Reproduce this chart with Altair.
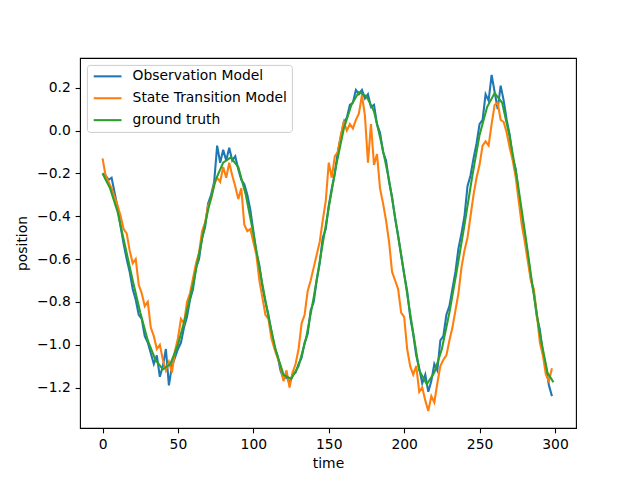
import altair as alt
import pandas as pd

# ---- data ----
t_truth = list(range(0, 300, 5)) + [299]
truth = [-0.20, -0.27, -0.38, -0.54, -0.70, -0.85, -0.98, -1.07, -1.115, -1.09,
         -1.00, -0.87, -0.72, -0.54, -0.37, -0.23, -0.15, -0.125, -0.17, -0.30,
         -0.48, -0.68, -0.87, -1.03, -1.14, -1.16, -1.10, -0.97, -0.78, -0.57,
         -0.36, -0.16, 0.01, 0.12, 0.18, 0.16, 0.09, -0.06, -0.23, -0.45,
         -0.67, -0.90, -1.12, -1.185, -1.13, -1.02, -0.85, -0.65, -0.44, -0.22,
         -0.02, 0.11, 0.175, 0.13, -0.03, -0.23, -0.47, -0.72, -0.95, -1.13,
         -1.175]

t_noisy = list(range(0, 300, 2))
observation = [
    -0.20, -0.21, -0.23, -0.22, -0.29, -0.36, -0.45, -0.53, -0.60, -0.66,
    -0.74, -0.79, -0.86, -0.88, -0.96, -0.99, -1.04, -1.09, -1.05, -1.15,
    -1.10, -1.02, -1.19, -1.10, -1.06, -1.02, -0.99, -0.92, -0.87, -0.79,
    -0.74, -0.64, -0.60, -0.50, -0.45, -0.34, -0.30, -0.24, -0.07, -0.15,
    -0.09, -0.14, -0.08, -0.14, -0.12, -0.18, -0.23, -0.25, -0.30, -0.37,
    -0.47, -0.57, -0.63, -0.73, -0.80, -0.86, -0.94, -1.01, -1.05, -1.12,
    -1.16, -1.15, -1.18, -1.14, -1.13, -1.09, -1.06, -0.99, -0.95, -0.84,
    -0.80, -0.70, -0.62, -0.50, -0.46, -0.35, -0.27, -0.20, -0.10, -0.03,
    0.04, 0.06, 0.12, 0.13, 0.19, 0.17, 0.19, 0.15, 0.17, 0.11,
    0.12, 0.03, -0.01, -0.10, -0.14, -0.24, -0.31, -0.41, -0.49, -0.58,
    -0.67, -0.75, -0.87, -0.95, -1.05, -1.11, -1.18, -1.14, -1.22, -1.17,
    -1.09, -1.12, -0.98, -0.96, -0.86, -0.82, -0.74, -0.66, -0.55, -0.48,
    -0.40, -0.26, -0.21, -0.13, -0.06, 0.03, 0.05, 0.17, 0.14, 0.26,
    0.18, 0.10, 0.21, 0.14, 0.05, -0.02, -0.13, -0.18, -0.30, -0.40,
    -0.49, -0.58, -0.69, -0.76, -0.87, -0.93, -1.04, -1.10, -1.19, -1.24]
state_transition = [
    -0.13, -0.21, -0.24, -0.27, -0.31, -0.35, -0.40, -0.46, -0.48, -0.56,
    -0.62, -0.60, -0.72, -0.76, -0.82, -0.80, -0.92, -0.96, -1.02, -1.00,
    -1.07, -1.12, -1.08, -1.13, -1.03, -0.97, -0.88, -0.90, -0.80, -0.76,
    -0.69, -0.62, -0.57, -0.47, -0.43, -0.35, -0.32, -0.25, -0.22, -0.24,
    -0.17, -0.22, -0.15, -0.21, -0.26, -0.32, -0.27, -0.44, -0.47, -0.46,
    -0.52, -0.58, -0.70, -0.78, -0.86, -0.88, -0.97, -1.02, -1.06, -1.10,
    -1.17, -1.12, -1.20, -1.13, -1.09, -1.02, -0.90, -0.86, -0.75, -0.70,
    -0.64, -0.58, -0.52, -0.42, -0.33, -0.15, -0.22, -0.12, -0.10, -0.02,
    0.04, 0.00, 0.03, 0.01, 0.05, 0.08, 0.165, 0.07, -0.15, 0.03,
    -0.16, -0.11, -0.27, -0.34, -0.42, -0.52, -0.66, -0.70, -0.74, -0.85,
    -0.87, -1.02, -1.10, -1.14, -1.10, -1.22, -1.20, -1.26, -1.31, -1.24,
    -1.27, -1.18, -1.10, -1.07, -1.05, -0.98, -0.92, -0.84, -0.76, -0.64,
    -0.56, -0.50, -0.40, -0.30, -0.22, -0.16, -0.07, -0.05, -0.07, 0.03,
    0.12, 0.13, 0.05, 0.04, -0.01, -0.08, -0.14, -0.22, -0.33, -0.44,
    -0.52, -0.61, -0.70, -0.74, -0.86, -0.99, -1.05, -1.14, -1.17, -1.11]

series_names = ["Observation Model", "State Transition Model", "ground truth"]
series_colors = ["#1f77b4", "#ff7f0e", "#2ca02c"]
x_ticks = [0, 50, 100, 150, 200, 250, 300]
y_ticks = [-1.2, -1.0, -0.8, -0.6, -0.4, -0.2, 0.0, 0.2]

df_obs = pd.DataFrame({"time": t_noisy, "position": observation, "series": series_names[0]})
df_st = pd.DataFrame({"time": t_noisy, "position": state_transition, "series": series_names[1]})
df_gt = pd.DataFrame({"time": t_truth, "position": truth, "series": series_names[2]})

FONT = "DejaVu Sans"
FS = 13.89

x_enc = alt.X("time:Q", title="time",
              scale=alt.Scale(domain=[-14.95, 313.95], nice=False, zero=False),
              axis=alt.Axis(values=x_ticks, format="d"))
y_enc = alt.Y("position:Q", title="position",
              scale=alt.Scale(domain=[-1.389, 0.339], nice=False, zero=False),
              axis=alt.Axis(values=y_ticks, format=".1f"))
color_enc = alt.Color(
    "series:N",
    scale=alt.Scale(domain=series_names, range=series_colors),
    legend=alt.Legend(
        title=None, orient="none", legendX=6.9, legendY=6.9,
        symbolType="M-1,0H5", symbolSize=85.9, symbolStrokeWidth=2.08,
        labelFont=FONT, labelFontSize=FS, labelColor="black",
        labelOffset=27.3, rowPadding=6.9, padding=4.5,
        fillColor="white", strokeColor="#cccccc", cornerRadius=3,
    ),
)

def layer(df):
    return alt.Chart(df).mark_line(strokeWidth=2.08).encode(
        x=x_enc, y=y_enc, color=color_enc
    )

chart = alt.layer(layer(df_obs), layer(df_st), layer(df_gt)).properties(
    width=496, height=370,
    autosize=alt.AutoSizeParams(type="none"),
    padding={"left": 72, "top": 50, "right": 56, "bottom": 50},
).configure_view(
    stroke="black", strokeWidth=1.1
).configure_axis(
    domain=False, grid=False,
    tickColor="black", tickWidth=1.1, tickSize=4.86,
    labelFont=FONT, labelFontSize=FS, labelColor="black", labelPadding=4.86,
    titleFont=FONT, titleFontSize=FS, titleColor="black", titleFontWeight="normal",
).configure_axisX(titlePadding=5).configure_axisY(titlePadding=7)

chart.save("out.html", embed_options={"renderer": "svg", "actions": False})
